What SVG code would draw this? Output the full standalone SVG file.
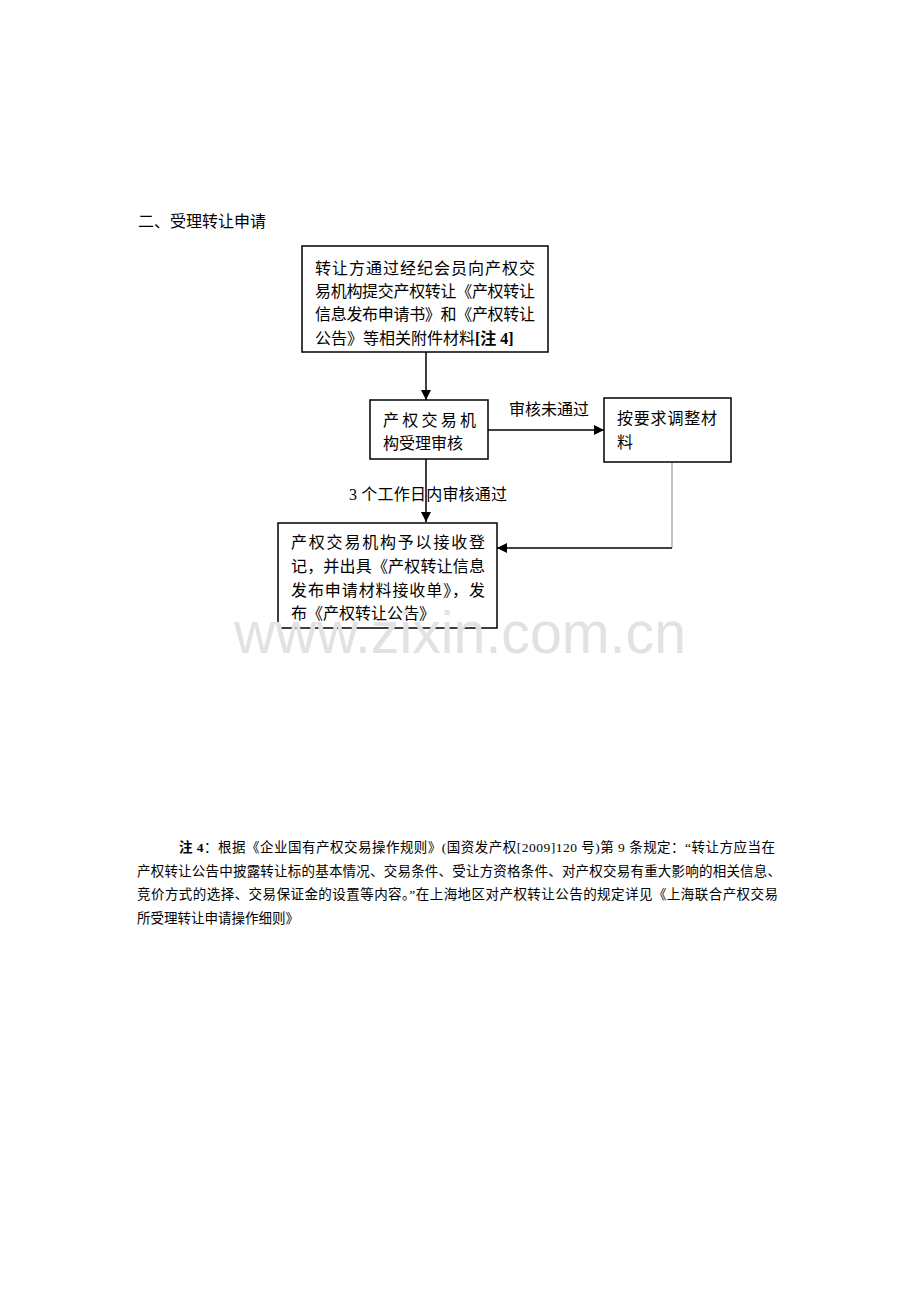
<svg xmlns="http://www.w3.org/2000/svg" width="920" height="1302" viewBox="0 0 920 1302">
<style>
.t{font-family:"Liberation Serif","Noto Sans CJK SC",serif;font-size:16px;fill:#000}
.n{font-family:"Liberation Serif","Noto Sans CJK SC",serif;font-size:13.5px;fill:#000}
.box{fill:#fff;stroke:#000;stroke-width:1.5}
.ln{stroke:#000;stroke-width:1.5;fill:none}
.wm{font-family:"Liberation Sans",Arial,sans-serif;font-size:60px;fill:#e2e2e2}
</style>
<defs>
<marker id="ah" viewBox="0 0 10 10" refX="10" refY="5" markerWidth="10" markerHeight="10" markerUnits="userSpaceOnUse" orient="auto">
<path d="M0,0 L10,5 L0,10 z" fill="#000"/>
</marker>
</defs>
<rect width="920" height="1302" fill="#fff"/>
<text class="t" x="138" y="227">二、受理转让申请</text>

<g id="connectors">
<line class="ln" x1="426" y1="352" x2="426" y2="400" marker-end="url(#ah)"/>
<line class="ln" x1="488" y1="430" x2="604" y2="430" marker-end="url(#ah)"/>
<line class="ln" x1="426" y1="459" x2="426" y2="522" marker-end="url(#ah)"/>
<polyline points="672,462 672,548" fill="none" stroke="#888" stroke-width="1"/>
<line class="ln" x1="672" y1="548" x2="497" y2="548" marker-end="url(#ah)"/>
<text class="t" x="509" y="415">审核未通过</text>
<text class="t" x="349" y="500" textLength="158" lengthAdjust="spacing">3 个工作日内审核通过</text>
</g>

<g id="node1">
<rect class="box" x="302" y="246" width="246" height="106"/>
<text class="t" x="315" y="274" textLength="220" lengthAdjust="spacing">转让方通过经纪会员向产权交</text>
<text class="t" x="315" y="297" textLength="220" lengthAdjust="spacing">易机构提交产权转让《产权转让</text>
<text class="t" x="315" y="320" textLength="220" lengthAdjust="spacing">信息发布申请书》和《产权转让</text>
<text class="t" x="315" y="344">公告》等相关附件材料<tspan font-weight="bold">[注 4]</tspan></text>
</g>

<g id="node2">
<rect class="box" x="370" y="400" width="118" height="59"/>
<text class="t" x="383" y="426" textLength="93" lengthAdjust="spacing">产权交易机</text>
<text class="t" x="383" y="449">构受理审核</text>
</g>

<g id="node3">
<rect class="box" x="604" y="398" width="127" height="64"/>
<text class="t" x="617" y="424" textLength="100" lengthAdjust="spacing">按要求调整材</text>
<text class="t" x="617" y="448">料</text>
</g>

<g id="node4">
<rect class="box" x="278" y="523" width="219" height="105"/>
<text class="t" x="291" y="548" textLength="194" lengthAdjust="spacing">产权交易机构予以接收登</text>
<text class="t" x="291" y="572" textLength="194" lengthAdjust="spacing">记，并出具《产权转让信息</text>
<text class="t" x="291" y="596" textLength="194" lengthAdjust="spacing">发布申请材料接收单》，发</text>
<text class="t" x="291" y="619">布《产权转让公告》</text>
</g>

<g id="note">
<text class="n" x="179" y="852" textLength="596" lengthAdjust="spacing"><tspan font-weight="bold">注 4</tspan>：根据《企业国有产权交易操作规则》(国资发产权[2009]120 号)第 9 条规定：“转让方应当在</text>
<text class="n" x="137" y="876" textLength="644" lengthAdjust="spacing">产权转让公告中披露转让标的基本情况、交易条件、受让方资格条件、对产权交易有重大影响的相关信息、</text>
<text class="n" x="137" y="899" textLength="641" lengthAdjust="spacing">竞价方式的选择、交易保证金的设置等内容。”在上海地区对产权转让公告的规定详见《上海联合产权交易</text>
<text class="n" x="137" y="923">所受理转让申请操作细则》</text>
</g>

<text class="wm" x="234" y="653" textLength="452" lengthAdjust="spacingAndGlyphs">www.zixin.com.cn</text>
</svg>
